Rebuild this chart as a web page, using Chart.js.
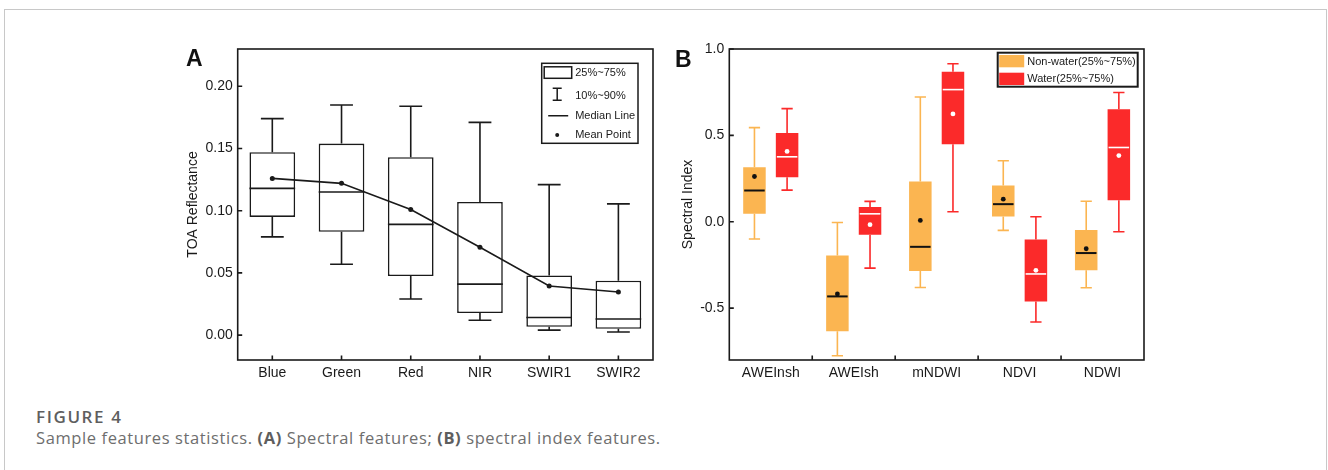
<!DOCTYPE html>
<html>
<head>
<meta charset="utf-8">
<script src="https://cdn.jsdelivr.net/npm/chart.js@4.4.1/dist/chart.umd.min.js"></script>
<style>
  html, body { margin: 0; padding: 0; background: #fff; }
  body { width: 1328px; height: 470px; position: relative; overflow: hidden; }
  .card { position: absolute; left: 4px; top: 9px; width: 1321px; height: 480px; border: 1px solid #c8c8c8; border-bottom: none; }
  .panel { position: absolute; top: 30px; width: 500px; height: 360px; }
  #wrapA { left: 170px; }
  #wrapB { left: 660px; }
  .tag { position: absolute; font: bold 23px Arial, "Liberation Sans", sans-serif; line-height: 23px; color: #111; z-index: 2; }
  .figno { position: absolute; left: 36px; top: 407px; font: 600 17px "Open Sans", sans-serif; line-height: 20px; letter-spacing: 1.6px; color: #5e5e5e; }
  .caption { position: absolute; left: 36px; top: 428px; font: 400 16.5px "Open Sans", sans-serif; line-height: 20px; letter-spacing: 0.6px; color: #6e6e6e; white-space: nowrap; }
  .caption b { font-weight: 700; color: #5e5e5e; }
</style>
</head>
<body>
<div class="card"></div>
<div class="tag" style="left:186px; top:47px;">A</div>
<div class="tag" style="left:675px; top:48px;">B</div>
<div class="panel" id="wrapA"><canvas id="chartA" width="500" height="360"></canvas></div>
<div class="panel" id="wrapB"><canvas id="chartB" width="500" height="360"></canvas></div>
<div class="figno">FIGURE 4</div>
<div class="caption">Sample features statistics. <b>(A)</b> Spectral features; <b>(B)</b> spectral index features.</div>

<script>
// panel A: TOA reflectance per band
const bandLabels = ['Blue', 'Green', 'Red', 'NIR', 'SWIR1', 'SWIR2'];
const bandP10 = [0.079, 0.057, 0.029, 0.012, 0.004, 0.0025];
const bandQ1 = [0.095, 0.083, 0.0475, 0.0177, 0.0067, 0.0051];
const bandMedian = [0.118, 0.115, 0.089, 0.041, 0.0142, 0.0129];
const bandQ3 = [0.147, 0.154, 0.143, 0.107, 0.048, 0.0438];
const bandP90 = [0.174, 0.185, 0.184, 0.171, 0.121, 0.1055];
const bandMean = [0.126, 0.122, 0.101, 0.0706, 0.0395, 0.0346];
const reflTicks = [0, 0.05, 0.10, 0.15, 0.20];

// panel B: spectral indices, non-water vs water
const indexLabels = ['AWEInsh', 'AWEIsh', 'mNDWI', 'NDVI', 'NDWI'];
const nonWaterP10 = [-0.100, -0.775, -0.380, -0.050, -0.382];
const nonWaterQ1 = [0.046, -0.634, -0.285, 0.031, -0.281];
const nonWaterMedian = [0.181, -0.432, -0.145, 0.102, -0.181];
const nonWaterQ3 = [0.316, -0.195, 0.233, 0.210, -0.048];
const nonWaterP90 = [0.545, -0.004, 0.722, 0.353, 0.119];
const nonWaterMean = [0.262, -0.418, 0.008, 0.131, -0.156];
const waterP10 = [0.183, -0.268, 0.058, -0.580, -0.058];
const waterQ1 = [0.258, -0.075, 0.449, -0.462, 0.125];
const waterMedian = [0.376, 0.046, 0.765, -0.302, 0.430];
const waterQ3 = [0.514, 0.085, 0.869, -0.102, 0.651];
const waterP90 = [0.655, 0.118, 0.915, 0.029, 0.748];
const waterMean = [0.407, -0.017, 0.624, -0.281, 0.383];
const indexTicks = [-0.5, 0, 0.5, 1.0];

const FONT = 'Arial, "Liberation Sans", sans-serif';
const INK = '#1a1a1a';
const ORANGE = '#fbb551';
const RED = '#fb2a2a';

// whiskers, medians and (optionally) mean dots, drawn right after the box dataset
function boxParts(series) {
  return {
    id: 'boxParts',
    afterDatasetDraw(chart, args) {
      const s = series.find(o => o.dataset === args.index);
      if (!s) return;
      const {ctx, scales: {y}} = chart;
      ctx.save();
      args.meta.data.forEach((bar, i) => {
        const w = bar.width;
        const yHi = y.getPixelForValue(s.p90[i]);
        const yLo = y.getPixelForValue(s.p10[i]);
        const yQ3 = y.getPixelForValue(s.q3[i]);
        const yQ1 = y.getPixelForValue(s.q1[i]);
        ctx.strokeStyle = s.whisker;
        ctx.lineWidth = 1.6;
        ctx.beginPath();
        ctx.moveTo(bar.x, yQ3); ctx.lineTo(bar.x, yHi);
        ctx.moveTo(bar.x - w / 4, yHi); ctx.lineTo(bar.x + w / 4, yHi);
        ctx.moveTo(bar.x, yQ1); ctx.lineTo(bar.x, yLo);
        ctx.moveTo(bar.x - w / 4, yLo); ctx.lineTo(bar.x + w / 4, yLo);
        ctx.stroke();

        const yMed = y.getPixelForValue(s.median[i]);
        ctx.strokeStyle = s.medianColor;
        ctx.lineWidth = s.medianWidth;
        ctx.beginPath();
        ctx.moveTo(bar.x - w / 2 + s.inset, yMed);
        ctx.lineTo(bar.x + w / 2 - s.inset, yMed);
        ctx.stroke();

        if (s.mean) {
          ctx.fillStyle = s.meanColor;
          ctx.beginPath();
          ctx.arc(bar.x, y.getPixelForValue(s.mean[i]), 2.4, 0, Math.PI * 2);
          ctx.fill();
        }
      });
      ctx.restore();
    }
  };
}

// frame around the plot and inward tick marks
function frame(opts) {
  return {
    id: 'frame',
    afterDraw(chart) {
      const {ctx, chartArea: a, scales: {x, y}} = chart;
      ctx.save();
      ctx.strokeStyle = INK;
      ctx.lineWidth = 1.6;
      ctx.strokeRect(a.left, a.top, a.right - a.left, a.bottom - a.top);
      ctx.beginPath();
      y.ticks.forEach(t => {
        const py = y.getPixelForValue(t.value);
        ctx.moveTo(a.left, py); ctx.lineTo(a.left + 4.5, py);
      });
      const n = x.ticks.length;
      if (opts.between) {
        for (let i = 1; i < n; i++) {
          const px = (x.getPixelForTick(i - 1) + x.getPixelForTick(i)) / 2;
          ctx.moveTo(px, a.bottom); ctx.lineTo(px, a.bottom - 4.5);
        }
      } else {
        for (let i = 0; i < n; i++) {
          const px = x.getPixelForTick(i);
          ctx.moveTo(px, a.bottom); ctx.lineTo(px, a.bottom - 4.5);
        }
      }
      ctx.stroke();
      if (opts.legend) opts.legend(ctx, a);
      ctx.restore();
    }
  };
}

function legendA(ctx, a) {
  const L = a.right - 111.3, T = a.top + 14.3;
  ctx.strokeStyle = INK;
  ctx.lineWidth = 1.5;
  ctx.strokeRect(L, T, 96.3, 80);
  ctx.fillStyle = '#fff';
  ctx.fillRect(L + 2.5, T + 3.5, 27.5, 11.5);
  ctx.strokeRect(L + 2.5, T + 3.5, 27.5, 11.5);
  ctx.beginPath();
  ctx.moveTo(L + 15.5, T + 25); ctx.lineTo(L + 15.5, T + 37);
  ctx.moveTo(L + 11, T + 25); ctx.lineTo(L + 20, T + 25);
  ctx.moveTo(L + 11, T + 37); ctx.lineTo(L + 20, T + 37);
  ctx.moveTo(L + 6.5, T + 52.5); ctx.lineTo(L + 26.5, T + 52.5);
  ctx.stroke();
  ctx.fillStyle = INK;
  ctx.beginPath();
  ctx.arc(L + 15.5, T + 71.7, 2, 0, Math.PI * 2);
  ctx.fill();
  ctx.font = '11px ' + FONT;
  ctx.textBaseline = 'middle';
  ctx.textAlign = 'left';
  ctx.fillText('25%~75%', L + 33.5, T + 10);
  ctx.fillText('10%~90%', L + 33.5, T + 32.4);
  ctx.fillText('Median Line', L + 33.5, T + 52.7);
  ctx.fillText('Mean Point', L + 33.5, T + 71.7);
}

function legendB(ctx, a) {
  const L = a.right - 146.3, T = a.top + 3.7;
  ctx.strokeStyle = INK;
  ctx.lineWidth = 2;
  ctx.strokeRect(L, T, 140, 34);
  ctx.fillStyle = ORANGE;
  ctx.fillRect(L + 1.5, T + 2.3, 25, 12.3);
  ctx.fillStyle = RED;
  ctx.fillRect(L + 1.5, T + 20, 25, 12.3);
  ctx.fillStyle = INK;
  ctx.font = '11px ' + FONT;
  ctx.textBaseline = 'middle';
  ctx.textAlign = 'left';
  ctx.fillText('Non-water(25%~75%)', L + 29.5, T + 9, 109);
  ctx.fillText('Water(25%~75%)', L + 29.5, T + 26.5);
}

function yScale(min, max, tickValues, fmt, width, title, titlePad) {
  return {
    min: min,
    max: max,
    grid: { display: false, drawTicks: false },
    border: { display: false },
    afterFit(scale) { scale.width = width; },
    afterBuildTicks(scale) { scale.ticks = tickValues.map(v => ({ value: v })); },
    ticks: {
      padding: 5,
      color: INK,
      font: { family: FONT, size: 14 },
      callback: v => fmt(v)
    },
    title: {
      display: true,
      text: title,
      color: INK,
      padding: { top: titlePad, bottom: 0 },
      font: { family: FONT, size: 14 }
    }
  };
}

function xScale() {
  return {
    grid: { display: false, drawTicks: false },
    border: { display: false },
    afterFit(scale) { scale.height = 30; },
    ticks: {
      padding: 5,
      color: INK,
      font: { family: FONT, size: 14 },
      maxRotation: 0,
      autoSkip: false
    }
  };
}

Chart.defaults.animation = false;

new Chart(document.getElementById('chartA').getContext('2d'), {
  type: 'bar',
  data: {
    labels: bandLabels,
    datasets: [
      {
        type: 'line',
        label: 'Mean',
        data: bandMean,
        borderColor: INK,
        borderWidth: 1.6,
        pointRadius: 2.5,
        pointBackgroundColor: INK,
        pointBorderWidth: 0,
        tension: 0,
        order: 0
      },
      {
        label: '25%~75%',
        data: bandQ1.map((q, i) => [q, bandQ3[i]]),
        backgroundColor: '#fff',
        borderColor: INK,
        borderWidth: 1.6,
        borderSkipped: false,
        categoryPercentage: 1,
        barPercentage: 0.66,
        order: 1
      }
    ]
  },
  options: {
    responsive: false,
    layout: { padding: { left: 0, top: 19, right: 17, bottom: 0 } },
    plugins: { legend: { display: false }, tooltip: { enabled: false } },
    scales: {
      x: xScale(),
      y: yScale(-0.02, 0.23, reflTicks, v => v.toFixed(2), 67.7, 'TOA Reflectance', 14.6)
    }
  },
  plugins: [
    boxParts([{ dataset: 1, p10: bandP10, q1: bandQ1, median: bandMedian, q3: bandQ3, p90: bandP90,
      whisker: INK, medianColor: INK, medianWidth: 1.6, inset: 0 }]),
    frame({ between: false, legend: legendA })
  ]
});

new Chart(document.getElementById('chartB').getContext('2d'), {
  type: 'bar',
  data: {
    labels: indexLabels,
    datasets: [
      {
        label: 'Non-water(25%~75%)',
        data: nonWaterQ1.map((q, i) => [q, nonWaterQ3[i]]),
        backgroundColor: ORANGE,
        borderWidth: 0,
        categoryPercentage: 0.787,
        barPercentage: 0.69
      },
      {
        label: 'Water(25%~75%)',
        data: waterQ1.map((q, i) => [q, waterQ3[i]]),
        backgroundColor: RED,
        borderWidth: 0,
        categoryPercentage: 0.787,
        barPercentage: 0.69
      }
    ]
  },
  options: {
    responsive: false,
    layout: { padding: { left: 0, top: 19, right: 16, bottom: 0 } },
    plugins: { legend: { display: false }, tooltip: { enabled: false } },
    scales: {
      x: xScale(),
      y: yScale(-0.8, 1.0, indexTicks, v => v.toFixed(1), 69.3, 'Spectral Index', 19.6)
    }
  },
  plugins: [
    boxParts([
      { dataset: 0, p10: nonWaterP10, q1: nonWaterQ1, median: nonWaterMedian, q3: nonWaterQ3, p90: nonWaterP90,
        mean: nonWaterMean, whisker: ORANGE, medianColor: '#111', meanColor: '#111', medianWidth: 2, inset: 1 },
      { dataset: 1, p10: waterP10, q1: waterQ1, median: waterMedian, q3: waterQ3, p90: waterP90,
        mean: waterMean, whisker: RED, medianColor: '#fff', meanColor: '#fff', medianWidth: 1.6, inset: 1 }
    ]),
    frame({ between: true, legend: legendB })
  ]
});
</script>
</body>
</html>
